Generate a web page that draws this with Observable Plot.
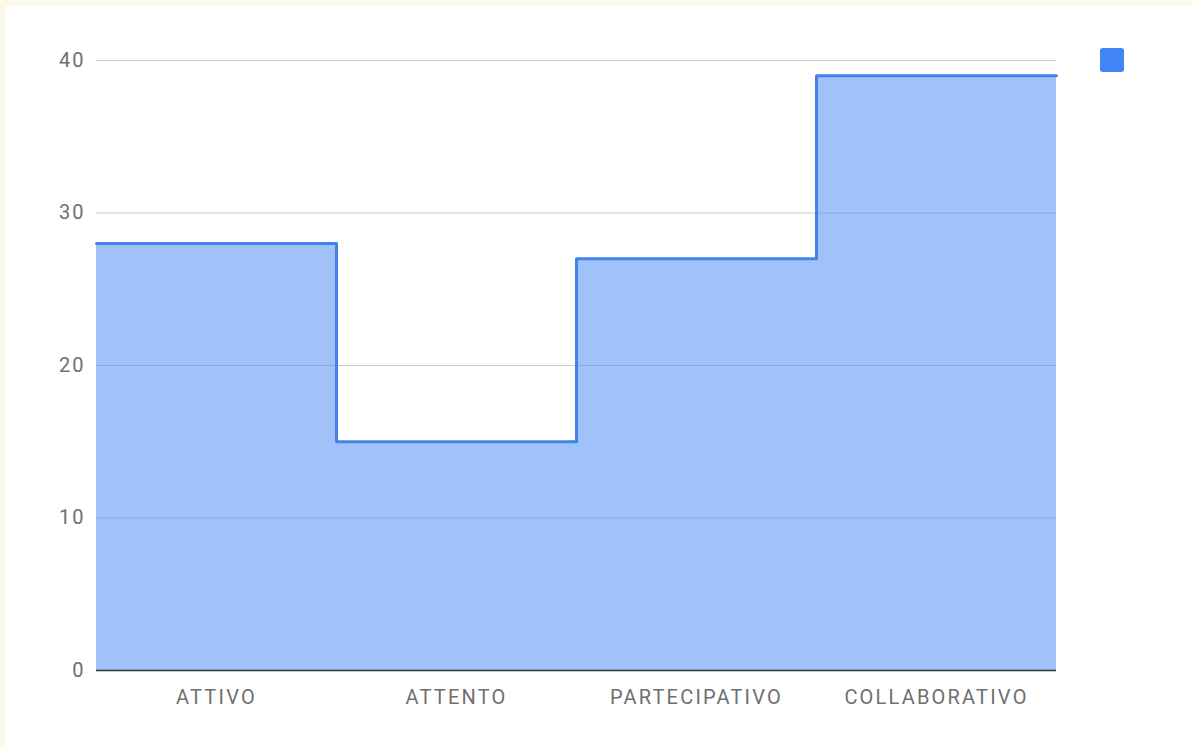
<!DOCTYPE html>
<html>
<head>
<meta charset="utf-8">
<script src="https://cdn.jsdelivr.net/npm/d3@7"></script>
<script src="https://cdn.jsdelivr.net/npm/@observablehq/plot@0.6"></script>
<style>
  html, body { margin: 0; padding: 0; background: #fdf8ec; }
  #frame { position: absolute; left: 5px; top: 6px; width: 1187px; height: 740px; background: #ffffff; }
  #legend { position: absolute; left: 1095px; top: 42px; width: 24px; height: 24px; background: #4285f4; border-radius: 3px; }
  g[aria-label="x-axis tick label"] text { letter-spacing: 2.2px; }
  g[aria-label="y-axis tick label"] text { letter-spacing: 2px; }
</style>
</head>
<body>
<div id="frame"><div id="chart"></div><div id="legend"></div></div>
<script>
const categories = ["ATTIVO", "ATTENTO", "PARTECIPATIVO", "COLLABORATIVO"];
const values = [28, 15, 27, 39];
const yTicks = [0, 10, 20, 30, 40];

// step table: each category spans [i, i+1]; closing point repeats last value
const rows = categories.map((c, i) => ({ i, v: values[i] }));
rows.push({ i: categories.length, v: values[values.length - 1] });

const chart = Plot.plot({
  width: 1187,
  height: 740,
  marginLeft: 91,
  marginRight: 136,
  marginTop: 54,
  marginBottom: 76,
  style: { fontFamily: "Roboto", fontSize: "20px", color: "#6f6f6f", background: "transparent" },
  x: {
    domain: [0, categories.length],
    ticks: categories.map((c, i) => i + 0.5),
    tickFormat: d => categories[Math.floor(d)],
    tickSize: 0,
    tickPadding: 19,
    label: null
  },
  y: {
    domain: [0, 40],
    ticks: yTicks,
    tickSize: 0,
    tickPadding: 11,
    label: null
  },
  marks: [
    Plot.gridY(yTicks, { stroke: "#cccccc", strokeOpacity: 1 }),
    Plot.areaY(rows, { x: "i", y: "v", curve: "step-after", fill: "#4285f4", fillOpacity: 0.5 }),
    Plot.lineY(rows, { x: "i", y: "v", curve: "step-after", stroke: "#4283ea", strokeWidth: 3, strokeLinejoin: "round" }),
    Plot.ruleY([0], { stroke: "#333333", strokeWidth: 1.5 })
  ]
});
document.getElementById("chart").appendChild(chart);
</script>
</body>
</html>
